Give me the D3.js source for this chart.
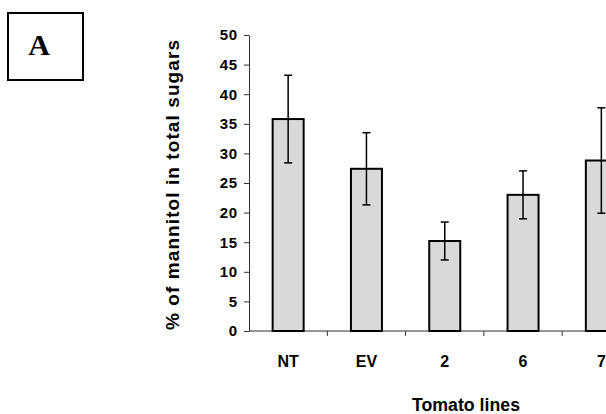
<!DOCTYPE html>
<html>
<head>
<meta charset="utf-8">
<script src="https://cdn.jsdelivr.net/npm/d3@7"></script>
<style>
  html, body { margin: 0; padding: 0; background: #fff; }
  svg { display: block; }
  text { font-family: Arial, "Liberation Sans", sans-serif; font-weight: bold; fill: #000; }
</style>
</head>
<body>
<svg id="chart"></svg>
<script>
// 数据
const categories = ["NT", "EV", "2", "6", "7"];
const means = [35.8, 27.4, 15.2, 23.0, 28.8];
const errors = [7.4, 6.1, 3.2, 4.05, 8.9];
const yTicks = [0, 5, 10, 15, 20, 25, 30, 35, 40, 45, 50];

const width = 606, height = 414;
const svg = d3.select("#chart").attr("width", width).attr("height", height);

const left = 249, bandW = 78.3;
const x = d3.scaleBand()
    .domain(categories)
    .range([left, left + bandW * categories.length])
    .padding(0);
const y = d3.scaleLinear().domain([0, 50]).range([331, 35]);

// 面板标签 A
svg.append("rect")
    .attr("x", 8).attr("y", 13).attr("width", 75).attr("height", 67)
    .attr("fill", "none").attr("stroke", "#000").attr("stroke-width", 2);
svg.append("text")
    .attr("x", 39).attr("y", 55)
    .attr("text-anchor", "middle")
    .style("font-family", "'Liberation Serif', 'Times New Roman', serif")
    .style("font-size", "30px")
    .text("A");

// y 轴
const yAxis = svg.append("g")
    .attr("transform", `translate(${left},0)`)
    .call(d3.axisLeft(y).tickValues(yTicks).tickSize(5).tickPadding(6).tickSizeOuter(0));
yAxis.select(".domain").attr("stroke", "#333");
yAxis.selectAll(".tick line").attr("stroke", "#333");
yAxis.selectAll("text").style("font-size", "15px").style("letter-spacing", "0.8px");

// x 轴线
svg.append("line")
    .attr("x1", left).attr("x2", width)
    .attr("y1", y(0)).attr("y2", y(0))
    .attr("stroke", "#333").attr("stroke-width", 1);

// 类别边界刻度
svg.append("g").selectAll("line")
    .data(categories.slice(1))
    .enter().append("line")
    .attr("x1", d => x(d)).attr("x2", d => x(d))
    .attr("y1", y(0)).attr("y2", y(0) + 5)
    .attr("stroke", "#333");

// 柱子
const barW = 31;
svg.append("g").selectAll("rect")
    .data(categories)
    .enter().append("rect")
    .attr("x", d => x(d) + (x.bandwidth() - barW) / 2)
    .attr("y", (d, i) => y(means[i]))
    .attr("width", barW)
    .attr("height", (d, i) => y(0) - y(means[i]))
    .attr("fill", "#d9d9d9")
    .attr("stroke", "#000")
    .attr("stroke-width", 2);

// 误差线
const cap = 4;
const eb = svg.append("g").attr("stroke", "#000").attr("stroke-width", 1.5);
categories.forEach((c, i) => {
  const cx = x(c) + x.bandwidth() / 2;
  const hi = y(means[i] + errors[i]), lo = y(means[i] - errors[i]);
  eb.append("line").attr("x1", cx).attr("x2", cx).attr("y1", hi).attr("y2", lo);
  eb.append("line").attr("x1", cx - cap).attr("x2", cx + cap).attr("y1", hi).attr("y2", hi);
  eb.append("line").attr("x1", cx - cap).attr("x2", cx + cap).attr("y1", lo).attr("y2", lo);
});

// x 类别标签
svg.append("g").selectAll("text")
    .data(categories)
    .enter().append("text")
    .attr("x", d => x(d) + x.bandwidth() / 2)
    .attr("y", 367)
    .attr("text-anchor", "middle")
    .style("font-size", "16px")
    .text(d => d);

// 轴标题
svg.append("text")
    .attr("x", 466).attr("y", 411)
    .attr("text-anchor", "middle")
    .style("font-size", "18px")
    .attr("textLength", 108)
    .attr("lengthAdjust", "spacingAndGlyphs")
    .text("Tomato lines");

svg.append("text")
    .attr("transform", "translate(179,185) rotate(-90)")
    .attr("text-anchor", "middle")
    .style("font-size", "19px")
    .attr("textLength", 290)
    .attr("lengthAdjust", "spacing")
    .text("% of mannitol in total sugars");
</script>
</body>
</html>
